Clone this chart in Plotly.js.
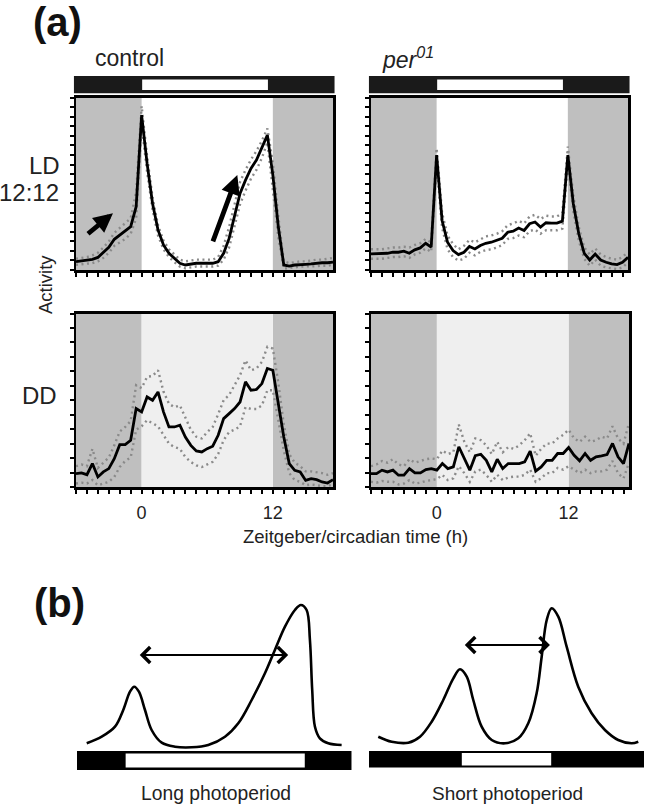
<!DOCTYPE html>
<html><head><meta charset="utf-8">
<script src="https://cdn.plot.ly/plotly-3.0.1.min.js"></script>
<style>html,body{margin:0;padding:0;background:#fff}#chart{width:645px;height:806px}</style>
</head><body><div id="chart"></div>
<script>
// ---------- Data (a): activity profiles, 30-min bins, y in % of axis height ----------
const hours = [-6,-5.5,-5,-4.5,-4,-3.5,-3,-2.5,-2,-1.5,-1,-0.5,0,0.5,1,1.5,2,2.5,3,3.5,4,4.5,5,5.5,6,6.5,7,7.5,8,8.5,9,9.5,10,10.5,11,11.5,12,12.5,13,13.5,14,14.5,15,15.5,16,16.5,17,17.5];

const ctrlLDMean  = [4.8,5.2,5.4,6.2,7.3,10.0,13.1,17.8,20.1,22.4,25.1,36.7,89.8,61.8,38.6,23.2,14.5,9.7,6.8,3.9,2.9,3.5,3.9,3.9,3.9,3.9,4.8,9.7,18.3,30.9,44.4,52.1,58.9,63.7,70.5,78.2,55,25,2.9,2.3,2.9,3.3,3.3,3.5,3.9,4.2,4.2,4.6];
const ctrlLDUpper = [6.5,7,7.5,8.5,10,13,16.5,21.5,24.5,27,30,45,95,66,42,26,17,12,9,6,5,5.5,6,6,6,6,7.5,14,25,38,51,58,64,69,75,82,62,31,5,4,4.5,5,5,5.5,6,6,6.5,7];
const ctrlLDLower = [3,3.2,3.5,4,5,7,10,14,16,18,21,30,84,57,35,20,12,7.5,4.5,2,1,1.5,2,2,2,2,2.5,6,13,25,38,46,53,58,65,74,48,19,0.8,1,1.5,2,2,2,2.2,2.5,2.5,3];

const perLDMean  = [9.3,9.3,9.3,9.7,10.3,10.3,10.9,9.7,11.7,12.8,15.5,13.2,66.6,28.7,16.1,11.3,8.9,10.3,13.6,12.2,14.2,15.5,16.1,17.1,18.4,21.9,22.5,24.3,22.9,26.8,27.8,24.9,27.4,27.2,27.2,28.3,66.6,38.4,21.0,9.7,5.8,9.3,5.8,4.5,3.5,3.1,4.5,7.4];
const perLDUpper = [12,12,12,12.5,13,13,13.5,13,14.5,15.5,18,16,70.5,33,20,15,12,14,17.5,16,18,19.5,20,21,22.5,26,27,28.5,27,31,32,29.5,31.5,31,31,33,71.5,43,25,13,9,12.5,9,7.5,6.5,6,7.5,10.5];
const perLDLower = [6.5,6.5,6.5,7,7.5,7.5,8,7,9,10,12.5,10.5,62,24.5,12,7.5,5.5,6.5,10,8.5,10.5,11.5,12,13,14.5,18,18.5,20,19,22.5,23.5,21,23,23,23,24,62,34,17,6.5,2.5,6,2.5,1.5,0.8,0.5,1.5,4.5];

const ctrlDDMean  = [7.7,8.1,7.1,13.5,5.8,8.7,10.6,16.3,24.4,24.4,26.9,45.2,43.3,51.9,50.0,54.8,43.3,34.6,34.6,35.6,28.8,24.0,20.8,20.2,22.1,23.5,29.8,39.4,42.3,45.2,49.0,60.6,55.8,56.2,59.6,68.3,67.3,48.1,28.8,13.5,9.6,8.7,3.8,4.8,4.2,2.9,2.3,4.2];
const ctrlDDUpper = [12,13,12,22,11,14,17,24,32,34.6,38,58.7,57,63.5,64,67.3,55,48,46,47,40,33,29,28,31.7,34.6,42,50,53,58.7,64.4,73,67.3,68.3,72.1,80.8,79.8,60,36,19,14,12,9,9,8.5,8,7,8];
const ctrlDDLower = [2,2.5,2,4,1,2,3,5.8,11.5,15,17,33,35,38.5,36.5,35,30,25,23,22,17.3,14.4,12.5,11.5,13,14.5,19,27,31.7,33,35,46,45,45,47,55.8,55.8,38.5,21,8,4,3,1,1.5,1,0.5,0.5,1.5];

const perDDMean  = [7.7,7.7,9.7,8.7,9.7,6.8,6.8,10.6,8.1,8.1,10.0,10.6,9.7,13.5,10.6,11.6,23.2,16.4,9.7,18.0,18.9,15.4,8.7,16.0,10.6,13.5,13.5,13.5,14.5,20.7,9.1,11.6,15.4,15.4,19.3,19.3,22.8,18.3,15.1,19.3,15.4,17.4,18.0,18.7,25.1,17.4,13.5,25.1];
const perDDUpper = [12,13,15,14,16,13,12,16,14,15,16,16.5,16,21,19,20,36,26,20,28,27,24,19,26,20,23,22,24,27,31,18,22,25,25,28,30,33,28,26,29,26,27,29,28,35,28,25,37];
const perDDLower = [3,2.5,3.5,3,3,1.5,2,4,2,2.5,3.5,4,4.5,7,4,5,12,8,3,9,10,7,3,7,4,5.5,6,6,7,10,3,5,8,8,11,10,12,10,8,10,8,9,9,10,15,8,5,14];

const tickHours = [-6,-5,-4,-3,-2,-1,0,1,2,3,4,5,6,7,8,9,10,11,12,13,14,15,16,17];
const labeledHours = [0, 12];
const lightOn = 0, lightOff = 12;
const barLight = [0.05, 11.55];
const columnLabels = ['control', '<i>per<sup>01</sup></i>'];

// ---------- Data (b): schematic activity curves ----------
const longX  = [-3.15,-1.84,-0.68,0.04,0.63,1.0,1.41,1.94,2.52,3.40,4.56,6.02,7.47,8.93,10.09,11.26,12.42,13.29,14.17,15.04,15.56,16.06,16.35,16.55,16.79,17.22,17.95,19.12];
const longY  = [7.7,14.3,24.3,41,59.3,64.3,59.3,41,21,8.3,4.3,3.7,6,14.3,27.7,51,77.7,101,124.3,141,146,141,111,61,24.3,12.7,7.7,6];
const shortX = [-7.19,-6.02,-4.57,-3.55,-2.53,-1.52,-0.64,-0.06,0.53,1.10,1.83,2.71,3.87,5.03,5.90,6.63,7.07,7.51,7.94,8.52,9.25,10.26,11.43,12.59,13.75,14.92,15.50];
const shortY = [14.3,9.3,8.3,14.3,29.3,51,72.7,81.7,74.3,51,24.3,11,7.7,12.7,27.7,57.7,94.3,131,142.7,134.3,104.3,64.3,37.7,21,11,7.7,9.3];
const longLight = [0, 16], shortLight = [0, 8];
const longDay = [-4, 20], shortDay = [-8, 16];

// ---------- Layout helpers ----------
const W = 645, H = 806;
const XMIN = -6, XMAX = 17.5;
const FONT = 'Liberation Sans, Arial, sans-serif';
const TXT = '#222';
const px = v => v / W;
const py = v => 1 - v / H;

function xAxis(d0, d1, anchor, labels) {
  return {domain:[px(d0), px(d1)], anchor, range:[XMIN, XMAX], tickmode:'array',
    tickvals: tickHours, ticktext: tickHours.map(h => labeledHours.includes(h) ? String(h) : ''),
    ticks:'outside', ticklen:4, tickwidth:2, tickcolor:'#000', showline:true, linewidth:2.5,
    linecolor:'#000', mirror:true, showgrid:false, zeroline:false, showticklabels:labels,
    ticklabelstandoff:4, tickfont:{family:FONT, size:18, color:TXT}, fixedrange:true};
}
function yAxis(d0, d1, anchor, nTicks) {
  return {domain:[py(d1), py(d0)], anchor, range:[0, 100], tick0:0, dtick:100/nTicks,
    ticks:'outside', ticklen:4, tickwidth:2, tickcolor:'#000', showline:true, linewidth:2.5,
    linecolor:'#000', mirror:true, showgrid:false, zeroline:false, showticklabels:false, fixedrange:true};
}

const panels = [
  {xa:'x',  ya:'y',  mean:ctrlLDMean, up:ctrlLDUpper, lo:ctrlLDLower, dd:false},
  {xa:'x2', ya:'y2', mean:perLDMean,  up:perLDUpper,  lo:perLDLower,  dd:false},
  {xa:'x3', ya:'y3', mean:ctrlDDMean, up:ctrlDDUpper, lo:ctrlDDLower, dd:true},
  {xa:'x4', ya:'y4', mean:perDDMean,  up:perDDUpper,  lo:perDDLower,  dd:true},
];

const traces = [];
const shapes = [];
panels.forEach(p => {
  [p.lo, p.up].forEach(s => traces.push({x:hours, y:s, xaxis:p.xa, yaxis:p.ya, mode:'lines',
    line:{color:'#8a8a8a', width:2.4, dash:'2px,3.5px'}, hoverinfo:'skip', showlegend:false}));
  traces.push({x:hours, y:p.mean, xaxis:p.xa, yaxis:p.ya, mode:'lines',
    line:{color:'#000', width:2.8}, showlegend:false});
  shapes.push({type:'rect', xref:p.xa, yref:p.ya + ' domain', x0:XMIN, x1:lightOn, y0:0, y1:1,
    fillcolor:'#bfbfbf', line:{width:0}, layer:'below'});
  shapes.push({type:'rect', xref:p.xa, yref:p.ya + ' domain', x0:lightOff, x1:XMAX, y0:0, y1:1,
    fillcolor:'#bfbfbf', line:{width:0}, layer:'below'});
  if (p.dd) shapes.push({type:'rect', xref:p.xa, yref:p.ya + ' domain', x0:lightOn, x1:lightOff, y0:0, y1:1,
    fillcolor:'#efefef', line:{width:0}, layer:'below'});
});

// LD bars above the top panels
const frac = h => (h - XMIN) / (XMAX - XMIN);
['x', 'x2'].forEach(a => {
  shapes.push({type:'rect', xref:a + ' domain', yref:'paper', x0:-0.008, x1:1.006, y0:py(93.3), y1:py(76),
    fillcolor:'#1a1a1a', line:{width:0}});
  shapes.push({type:'rect', xref:a + ' domain', yref:'paper', x0:frac(barLight[0]), x1:frac(barLight[1]),
    y0:py(90), y1:py(79.5), fillcolor:'#fff', line:{width:0}});
});

// (b) schematic curves
traces.push({x:longX, y:longY, xaxis:'x5', yaxis:'y5', mode:'lines', line:{color:'#000', width:2.6, shape:'spline', smoothing:1}, showlegend:false});
traces.push({x:shortX, y:shortY, xaxis:'x6', yaxis:'y6', mode:'lines', line:{color:'#000', width:2.6, shape:'spline', smoothing:1}, showlegend:false});
// (b) photoperiod bars
shapes.push({type:'rect', xref:'x5', yref:'paper', x0:longDay[0], x1:longDay[1], y0:py(770), y1:py(751), fillcolor:'#000', line:{width:0}});
shapes.push({type:'rect', xref:'x5', yref:'paper', x0:longLight[0] + 0.25, x1:longLight[1] - 0.1, y0:py(767.5), y1:py(753.5), fillcolor:'#fff', line:{width:0}});
shapes.push({type:'rect', xref:'x6', yref:'paper', x0:shortDay[0], x1:shortDay[1], y0:py(767.5), y1:py(751), fillcolor:'#000', line:{width:0}});
shapes.push({type:'rect', xref:'x6', yref:'paper', x0:shortLight[0] + 0.1, x1:shortLight[1] - 0.1, y0:py(765.5), y1:py(753), fillcolor:'#fff', line:{width:0}});

function txt(text, x, y, size, extra) {
  return Object.assign({text, x:px(x), y:py(y), xref:'paper', yref:'paper', showarrow:false,
    xanchor:'center', yanchor:'middle', font:{family:FONT, size, color:TXT}}, extra || {});
}
const annotations = [
  txt('<b>(a)</b>', 57, 22, 40, {font:{family:FONT, size:40, color:'#111'}}),
  txt(columnLabels[0], 129, 58, 23),
  txt(columnLabels[1], 408, 58, 23),
  txt('LD', 62, 165, 24, {xanchor:'right'}),
  txt('12:12', 61, 192, 24, {xanchor:'right'}),
  txt('DD', 59, 395, 24, {xanchor:'right'}),
  txt('Activity', 45, 285, 18.5, {textangle:-90}),
  txt('Zeitgeber/circadian time (h)', 355, 536, 18.5),
  txt('<b>(b)</b>', 59, 603, 40, {font:{family:FONT, size:40, color:'#111'}}),
  txt('Long photoperiod', 216, 793, 19.3),
  txt('Short photoperiod', 507, 793, 19),
  // arrows in control LD panel
  {xref:'x', yref:'y', axref:'x', ayref:'y', x:-2.62, y:32.9, ax:-5.04, ay:20.3, text:'', showarrow:true,
    arrowhead:2, arrowsize:0.8, arrowwidth:4.8, arrowcolor:'#000', standoff:0},
  {xref:'x', yref:'y', axref:'x', ayref:'y', x:8.75, y:55, ax:6.47, ay:15.7, text:'', showarrow:true,
    arrowhead:2, arrowsize:0.8, arrowwidth:4.8, arrowcolor:'#000', standoff:0},
  // double arrows in (b)
  {xref:'x5', yref:'y5', axref:'x5', ayref:'y5', x:14.45, y:96, ax:1.35, ay:96, text:'', showarrow:true,
    arrowhead:4, arrowside:'end+start', arrowsize:1.4, arrowwidth:2.2, arrowcolor:'#000', standoff:0, startstandoff:0},
  {xref:'x6', yref:'y6', axref:'x6', ayref:'y6', x:7.79, y:106, ax:0.23, ay:106, text:'', showarrow:true,
    arrowhead:4, arrowside:'end+start', arrowsize:1.4, arrowwidth:2.2, arrowcolor:'#000', standoff:0, startstandoff:0},
];

const layout = {
  width:W, height:H, margin:{l:0, r:0, t:0, b:0}, paper_bgcolor:'#fff', plot_bgcolor:'#fff',
  showlegend:false, font:{family:FONT},
  xaxis:  xAxis(76, 333, 'y', false),
  yaxis:  yAxis(97.5, 270, 'x', 18),
  xaxis2: xAxis(371, 628, 'y2', false),
  yaxis2: yAxis(97.5, 270, 'x2', 18),
  xaxis3: xAxis(76, 333, 'y3', true),
  yaxis3: yAxis(313.5, 487, 'x3', 12),
  xaxis4: xAxis(371, 629, 'y4', true),
  yaxis4: yAxis(313.5, 487, 'x4', 12),
  xaxis5: {domain:[px(77), px(351.7)], range:longDay, anchor:'y5', visible:false, fixedrange:true},
  yaxis5: {domain:[py(751), py(591)], range:[0, 160], anchor:'x5', visible:false, fixedrange:true},
  xaxis6: {domain:[px(369), px(644)], range:shortDay, anchor:'y6', visible:false, fixedrange:true},
  yaxis6: {domain:[py(751), py(591)], range:[0, 160], anchor:'x6', visible:false, fixedrange:true},
  shapes, annotations
};

Plotly.newPlot('chart', traces, layout, {displayModeBar:false, staticPlot:true});
</script>
</body></html>
